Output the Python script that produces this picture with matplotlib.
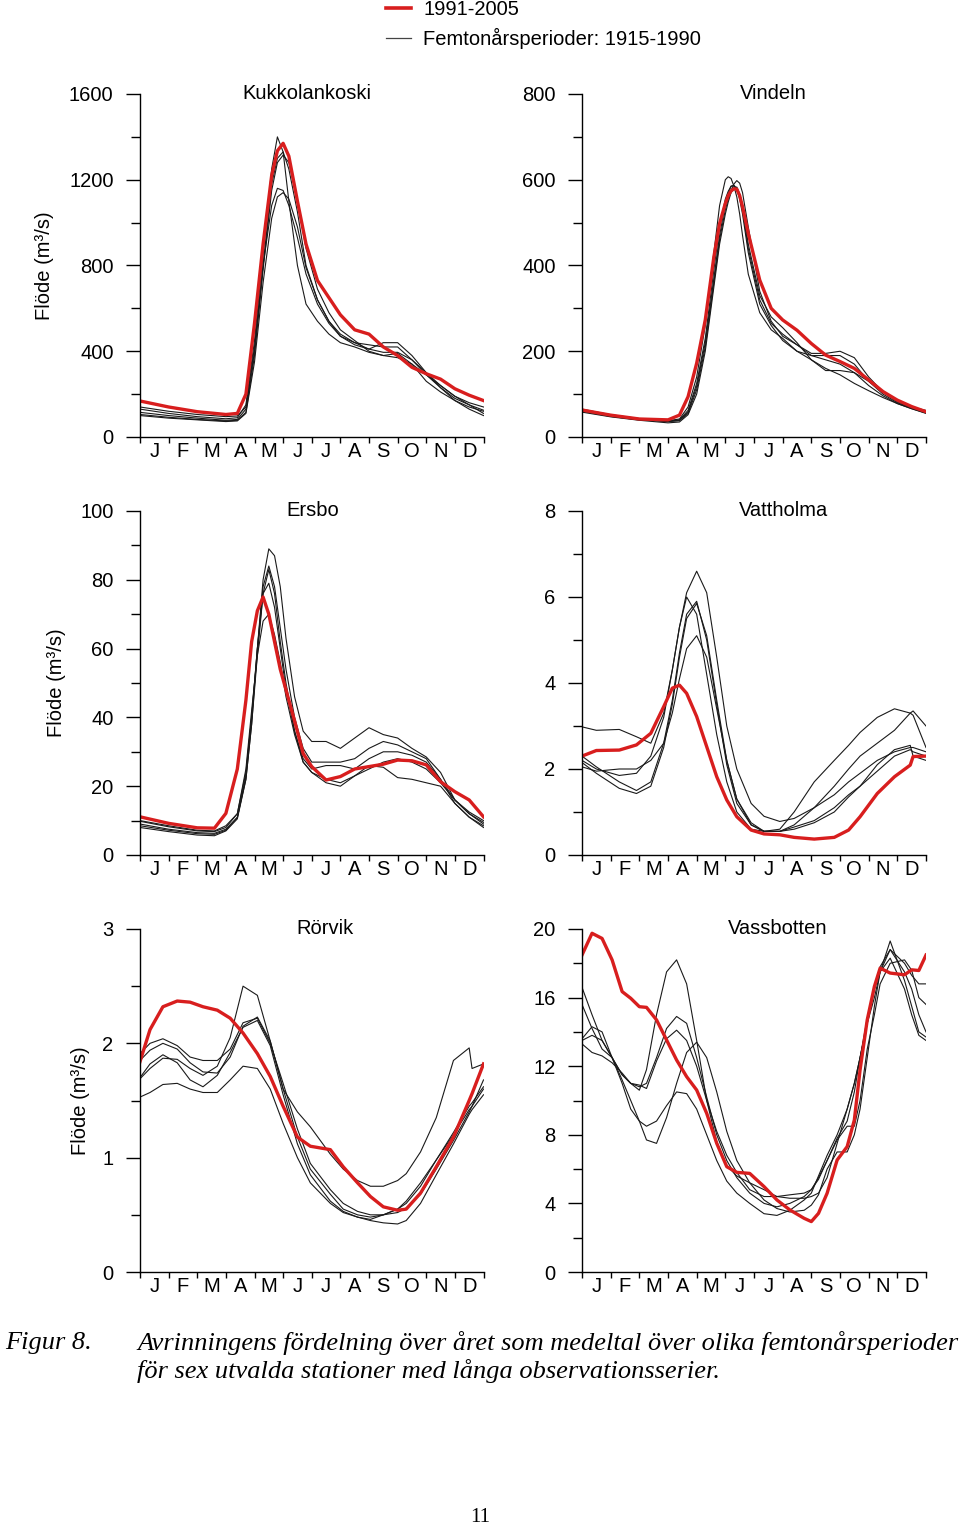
import matplotlib.pyplot as plt
import numpy as np
from matplotlib.lines import Line2D

plt.rcParams['font.family'] = ['Liberation Sans', 'DejaVu Sans']

W, H = 960, 1529
RED = '#d81e1e'
BLK = '#1a1a1a'

months = ['J', 'F', 'M', 'A', 'M', 'J', 'J', 'A', 'S', 'O', 'N', 'D']
red_label = '1991-2005'
black_label = 'Femtonårsperioder: 1915-1990'
ylabel = 'Flöde (m³/s)'

# --- Kukkolankoski (x in months from 1 Jan) ---
kuk_x = [0, 1, 2, 3, 3.4, 3.7, 4.0, 4.3, 4.6, 4.8, 5.0, 5.2, 5.5, 5.8, 6.2, 6.6,
         7.0, 7.5, 8.0, 8.5, 9.0, 9.5, 10.0, 10.5, 11.0, 11.5, 12]
kuk_red = [168, 140, 118, 105, 110, 200, 530, 900, 1220, 1335, 1370, 1310, 1100, 900,
           730, 650, 570, 500, 480, 420, 380, 325, 295, 270, 225, 195, 170]
kuk_old = [
    [130, 110, 95, 85, 90, 150, 450, 850, 1250, 1400, 1330, 1100, 800, 620, 540, 480,
     440, 420, 395, 380, 390, 340, 260, 210, 170, 140, 120],
    [115, 100, 88, 78, 82, 130, 400, 800, 1180, 1300, 1330, 1250, 1050, 800, 640, 540,
     470, 440, 430, 420, 420, 360, 290, 230, 180, 150, 125],
    [105, 92, 82, 75, 78, 115, 380, 780, 1150, 1280, 1315, 1280, 1100, 880, 690, 580,
     500, 450, 400, 380, 370, 340, 290, 240, 190, 150, 110],
    [140, 120, 105, 95, 98, 140, 420, 800, 1080, 1160, 1150, 1080, 930, 760, 620, 530,
     470, 430, 410, 395, 395, 360, 300, 240, 190, 160, 140],
    [100, 88, 80, 72, 75, 110, 350, 720, 1020, 1120, 1140, 1110, 980, 790, 640, 540,
     480, 440, 410, 440, 440, 380, 300, 230, 170, 130, 100],
]

# --- Vindeln ---
vin_x = [0, 1, 2, 3, 3.4, 3.7, 4.0, 4.3, 4.6, 4.8, 5.0, 5.1, 5.2, 5.3, 5.4, 5.5, 5.6,
         5.8, 6.2, 6.6, 7.0, 7.5, 8.0, 8.5, 9.0, 9.5, 10, 10.5, 11, 11.5, 12]
vin_red = [63, 51, 42, 40, 51, 94, 172, 273, 420, 498, 545, 563, 574, 579, 578, 563, 537,
           475, 366, 300, 273, 249, 218, 191, 176, 160, 133, 106, 86, 71, 59]
vin_old = [
    [65, 52, 43, 38, 42, 70, 140, 260, 430, 540, 600, 607, 603, 585, 560, 520, 470,
     380, 290, 250, 230, 200, 180, 155, 155, 150, 130, 105, 85, 70, 58],
    [60, 48, 40, 36, 38, 55, 110, 210, 360, 460, 530, 555, 575, 590, 598, 592, 570,
     490, 340, 270, 235, 215, 195, 195, 200, 185, 140, 105, 82, 70, 62],
    [62, 50, 42, 37, 40, 62, 125, 230, 390, 490, 555, 573, 585, 587, 580, 555, 520,
     430, 310, 260, 225, 200, 190, 190, 190, 170, 130, 100, 80, 68, 60],
    [58, 47, 39, 33, 35, 52, 100, 200, 350, 450, 520, 548, 570, 580, 583, 567, 540,
     450, 330, 280, 255, 220, 180, 160, 145, 125, 108, 92, 78, 66, 56],
    [63, 51, 42, 36, 39, 58, 118, 220, 370, 470, 545, 568, 585, 586, 578, 558, 530,
     440, 320, 265, 240, 215, 190, 180, 170, 150, 120, 96, 78, 66, 55],
]

# --- Ersbo ---
ers_x = [0, 1, 2, 2.6, 3.0, 3.4, 3.7, 3.9, 4.1, 4.3, 4.5, 4.7, 4.9, 5.1, 5.4, 5.7,
         6.0, 6.5, 7.0, 7.5, 8.0, 8.5, 9.0, 9.5, 10, 10.5, 11, 11.5, 12]
ers_red = [11.1, 9.2, 7.9, 7.8, 12.1, 25, 45, 62, 71, 75, 70, 62, 54, 48, 39, 29.5,
           25.7, 21.8, 22.8, 25, 25.7, 26.4, 27.6, 27.4, 26.2, 21.3, 18.4, 16, 11.1]
ers_old = [
    [10, 8.5, 7.2, 7, 8.5, 12, 24, 40, 60, 80, 89, 87, 78, 63, 46, 36, 33, 33, 31, 34,
     37, 35, 34, 31, 28.5, 24, 16, 12.5, 10],
    [9, 7.5, 6.5, 6.3, 7.5, 11, 22, 38, 60, 78, 84, 78, 66, 54, 40, 31, 27, 27, 27, 28,
     31, 33, 32, 30, 28, 22, 16, 12, 9],
    [8, 6.8, 5.8, 5.6, 7, 10.5, 22, 38, 58, 76, 83, 76, 62, 50, 36, 28, 25, 26, 26, 25,
     28, 30, 30, 29, 27, 22, 15, 11, 8.5],
    [8.5, 7.2, 6.2, 6, 7.2, 10.8, 23, 40, 60, 76, 79, 72, 60, 48, 36, 27, 24, 22, 21, 23,
     25, 27, 28, 27, 25, 21, 16, 12, 9.5],
    [9.8, 8.2, 7, 6.8, 8, 12, 25, 42, 58, 68, 70, 64, 56, 46, 35, 27, 24, 21, 20, 23,
     26, 25.5, 22.5, 22, 21, 20, 15, 11, 8],
]

# --- Vattholma ---
vat_x = [0, 0.5, 1.3, 1.9, 2.4, 2.85, 3.15, 3.4, 3.65, 4.0, 4.35, 4.7, 5.05, 5.4, 5.9,
         6.35, 6.9, 7.4, 8.1, 8.8, 9.3, 9.7, 10.3, 10.9, 11.45, 11.55, 12]
vat_red = [2.30, 2.43, 2.44, 2.56, 2.83, 3.45, 3.88, 3.95, 3.76, 3.22, 2.52, 1.82, 1.28,
           0.89, 0.58, 0.49, 0.47, 0.41, 0.37, 0.41, 0.58, 0.89, 1.43, 1.82, 2.09, 2.29, 2.30]
vat_old = [
    [2.2, 2.0, 1.85, 1.9, 2.3, 3.2, 4.3, 5.3, 6.1, 6.6, 6.1, 4.6, 3.0, 2.0, 1.2, 0.9,
     0.78, 0.85, 1.1, 1.4, 1.7, 1.9, 2.2, 2.4, 2.5, 2.5, 2.4],
    [2.98, 2.9, 2.92, 2.75, 2.6, 3.3, 4.3, 5.3, 6.0, 5.6, 4.2, 2.8, 1.7, 1.0, 0.6, 0.55,
     0.6, 1.0, 1.7, 2.2, 2.55, 2.85, 3.2, 3.4, 3.3, 3.25, 2.5],
    [2.3, 2.05, 1.7, 1.5, 1.7, 2.6, 3.6, 4.7, 5.6, 5.9, 5.0, 3.5, 2.1, 1.2, 0.7, 0.55,
     0.55, 0.7, 1.1, 1.6, 2.0, 2.3, 2.6, 2.9, 3.3, 3.35, 3.0],
    [2.15, 1.9, 1.55, 1.43, 1.6, 2.5, 3.5, 4.6, 5.5, 5.85, 5.1, 3.6, 2.2, 1.3, 0.7, 0.55,
     0.55, 0.65, 0.8, 1.1, 1.4, 1.6, 2.1, 2.45, 2.55, 2.3, 2.2],
    [2.05, 1.95, 2.0, 2.0, 2.2, 2.6, 3.3, 4.1, 4.8, 5.1, 4.6, 3.4, 2.2, 1.3, 0.75, 0.55,
     0.55, 0.6, 0.75, 1.0, 1.35, 1.6, 1.95, 2.3, 2.45, 2.4, 2.3],
]

# --- Rörvik ---
ror_x = [0, 0.35, 0.8, 1.3, 1.75, 2.2, 2.7, 3.15, 3.6, 4.1, 4.55, 5.0, 5.5, 5.95, 6.65,
         7.1, 7.6, 8.05, 8.5, 9.0, 9.3, 9.8, 10.35, 10.95, 11.5, 11.6, 12]
ror_red = [1.84, 2.12, 2.32, 2.37, 2.36, 2.32, 2.29, 2.22, 2.09, 1.91, 1.71, 1.45, 1.18,
           1.10, 1.07, 0.92, 0.78, 0.66, 0.57, 0.54, 0.55, 0.69, 0.92, 1.18, 1.50, 1.56, 1.82]
ror_old = [
    [1.69, 1.78, 1.87, 1.86, 1.78, 1.72, 1.80, 2.05, 2.50, 2.42, 2.02, 1.60, 1.40, 1.27,
     1.03, 0.90, 0.80, 0.75, 0.75, 0.80, 0.86, 1.05, 1.35, 1.85, 1.96, 1.78, 1.82],
    [1.91, 2.0, 2.04, 1.98, 1.88, 1.85, 1.85, 1.95, 2.18, 2.22, 2.0, 1.65, 1.25, 0.95,
     0.72, 0.6, 0.53, 0.5, 0.5, 0.52, 0.56, 0.68, 0.9, 1.15, 1.4, 1.45, 1.68],
    [1.85, 1.94, 2.0, 1.95, 1.83, 1.75, 1.74, 1.88, 2.15, 2.23, 2.02, 1.6, 1.18, 0.9,
     0.68, 0.55, 0.50, 0.48, 0.5, 0.55, 0.6, 0.75, 0.98, 1.22, 1.45, 1.48, 1.62],
    [1.7, 1.82, 1.9, 1.83, 1.68, 1.62, 1.72, 1.92, 2.14, 2.2, 1.98, 1.55, 1.12, 0.85,
     0.62, 0.53, 0.48, 0.45, 0.43, 0.42, 0.45, 0.6, 0.85, 1.12, 1.38, 1.42, 1.55],
    [1.53, 1.57, 1.64, 1.65, 1.6, 1.57, 1.57, 1.68, 1.8, 1.78, 1.6, 1.3, 1.0, 0.78,
     0.6, 0.52, 0.48, 0.46, 0.5, 0.55, 0.62, 0.78, 0.98, 1.2, 1.42, 1.45, 1.6],
]

# --- Vassbotten ---
vas_x = [0, 0.35, 0.7, 1.05, 1.4, 1.7, 2.0, 2.25, 2.6, 2.95, 3.3, 3.65, 4.0, 4.35, 4.7,
         5.05, 5.4, 5.85, 6.35, 6.8, 7.25, 7.75, 8.0, 8.25, 8.55, 8.9, 9.25, 9.5, 9.7,
         9.95, 10.2, 10.4, 10.75, 11.25, 11.5, 11.75, 12]
vas_red = [18.48, 19.75, 19.45, 18.2, 16.35, 15.96, 15.47, 15.43, 14.7, 13.53, 12.36,
           11.39, 10.61, 9.25, 7.5, 6.14, 5.81, 5.75, 4.98, 4.2, 3.62, 3.13, 2.94, 3.42,
           4.59, 6.53, 7.31, 8.86, 11.78, 14.7, 16.65, 17.72, 17.43, 17.33, 17.62, 17.58, 18.48]
vas_old = [
    [13.3, 12.8, 12.6, 12.2, 11.6, 11.0, 10.6, 11.8, 15.0, 17.5, 18.2, 16.8, 13.5, 10.0,
     7.6, 6.2, 5.6, 5.2, 4.8, 4.4, 4.3, 4.3, 4.4, 4.6, 5.5, 7.5, 9.5, 11.0, 12.5, 14.5,
     16.5, 17.8, 18.8, 17.5, 16.5, 15.0, 14.0],
    [16.6, 15.0, 13.5, 12.5, 11.5, 11.0, 10.8, 11.0, 12.5, 14.2, 14.9, 14.5, 12.5, 10.2,
     8.0, 6.5, 5.5, 4.6, 4.0, 3.8, 4.0, 4.4, 4.8, 5.5, 6.5, 7.8, 8.8, 10.5, 12.5, 14.5,
     16.0, 17.5, 19.3, 17.0, 15.5, 14.0, 13.7],
    [15.6, 14.2, 13.0, 12.5, 11.5, 11.0, 10.9, 10.7, 12.3, 13.6, 14.1, 13.5, 12.0, 10.0,
     8.2, 6.8, 5.8, 4.8, 4.4, 4.4, 4.5, 4.6, 4.8, 5.4, 6.5, 7.7, 8.5, 8.5, 10.0, 13.0,
     15.0, 16.8, 18.0, 18.2, 17.6, 16.0, 15.6],
    [13.6, 14.3, 14.0, 12.5, 11.2, 10.0, 8.8, 7.7, 7.5, 9.0, 11.0, 12.8, 13.4, 12.5,
     10.5, 8.2, 6.5, 5.2, 4.2, 3.7, 3.5, 3.6, 3.9, 4.5, 6.0, 7.0, 7.0, 8.0, 9.5, 12.5,
     15.5, 17.5, 18.8, 18.0, 17.3, 16.8, 16.8],
    [13.5, 13.8, 13.5, 12.5, 11.0, 9.5, 8.8, 8.5, 8.8, 9.7, 10.5, 10.4, 9.5, 8.0,
     6.5, 5.3, 4.6, 4.0, 3.4, 3.3, 3.6, 4.2, 4.6, 5.6, 6.8, 8.0, 9.5, 11.0, 12.5, 14.8,
     16.5, 17.5, 18.3, 16.5, 15.0, 13.8, 13.5],
]


def add_ax(left, top, right, bottom):
    return fig.add_axes([left / W, 1 - bottom / H, (right - left) / W, (bottom - top) / H])


def panel(ax, x, red, old, title, tx, ymax, step):
    for y in old:
        ax.plot(x, y, color=BLK, lw=0.8, solid_joinstyle='round')
    ax.plot(x, red, color=RED, lw=2.4, solid_joinstyle='round')
    ax.set_xlim(0, 12)
    ax.set_ylim(0, ymax)
    for s in ['top', 'right']:
        ax.spines[s].set_visible(False)
    for s in ['left', 'bottom']:
        ax.spines[s].set_linewidth(1.0)
    ax.set_yticks(np.arange(0, ymax + step / 2, step))
    ax.set_yticks(np.arange(step / 2, ymax, step), minor=True)
    ax.tick_params(axis='y', which='major', length=10, width=1, pad=9, labelsize=14.5)
    ax.tick_params(axis='y', which='minor', length=6.5, width=1)
    ax.set_xticks(np.arange(0, 13))
    ax.set_xticklabels([])
    ax.set_xticks(np.arange(0.5, 12, 1), minor=True)
    ax.set_xticklabels(months, minor=True)
    ax.tick_params(axis='x', which='major', length=4.5, width=1)
    ax.tick_params(axis='x', which='minor', length=0, pad=3.5, labelsize=14.5)
    ax.text(tx, 1.0, title, transform=ax.transAxes, ha='center', va='center', fontsize=14.5)


fig = plt.figure(figsize=(W / 100, H / 100), dpi=100)

cols = [(140, 483.5), (582, 926)]
rows = [(94, 437), (511, 855), (929, 1272)]

panel(add_ax(cols[0][0], rows[0][0], cols[0][1], rows[0][1]), kuk_x, kuk_red, kuk_old,
      'Kukkolankoski', 0.486, 1600, 400)
panel(add_ax(cols[1][0], rows[0][0], cols[1][1], rows[0][1]), vin_x, vin_red, vin_old,
      'Vindeln', 0.555, 800, 200)
panel(add_ax(cols[0][0], rows[1][0], cols[0][1], rows[1][1]), ers_x, ers_red, ers_old,
      'Ersbo', 0.504, 100, 20)
panel(add_ax(cols[1][0], rows[1][0], cols[1][1], rows[1][1]), vat_x, vat_red, vat_old,
      'Vattholma', 0.587, 8, 2)
panel(add_ax(cols[0][0], rows[2][0], cols[0][1], rows[2][1]), ror_x, ror_red, ror_old,
      'Rörvik', 0.539, 3, 1)
panel(add_ax(cols[1][0], rows[2][0], cols[1][1], rows[2][1]), vas_x, vas_red, vas_old,
      'Vassbotten', 0.570, 20, 4)

# y labels (left column only)
for xp, (t, b) in zip([45, 57, 80], rows):
    fig.text(xp / W, 1 - (t + b) / 2 / H, ylabel, rotation=90, ha='center', va='center',
             fontsize=14.5)

# legend at the top
handles = [Line2D([], [], color=RED, lw=2.6), Line2D([], [], color='#444444', lw=0.9)]
fig.legend(handles, [red_label, black_label], loc='upper left',
           bbox_to_anchor=(386 / W, 1.0), frameon=False, fontsize=14.5,
           handlelength=1.25, handletextpad=0.6, labelspacing=0.45,
           borderpad=0, borderaxespad=0)

# caption
cap = dict(family=['Liberation Serif', 'DejaVu Serif'], style='italic', fontsize=19)
fig.text(5 / W, 1 - 1343 / H, 'Figur 8.', ha='left', va='center', **cap)
fig.text(137 / W, 1 - 1343 / H,
         'Avrinningens fördelning över året som medeltal över olika femtonårsperioder',
         ha='left', va='center', **cap)
fig.text(137 / W, 1 - 1371 / H,
         'för sex utvalda stationer med långa observationsserier.',
         ha='left', va='center', **cap)
fig.text(480 / W, 1 - 1518 / H, '11', ha='center', va='center',
         family=['Liberation Serif', 'DejaVu Serif'], fontsize=15)

fig.savefig('out.png', dpi=100)
